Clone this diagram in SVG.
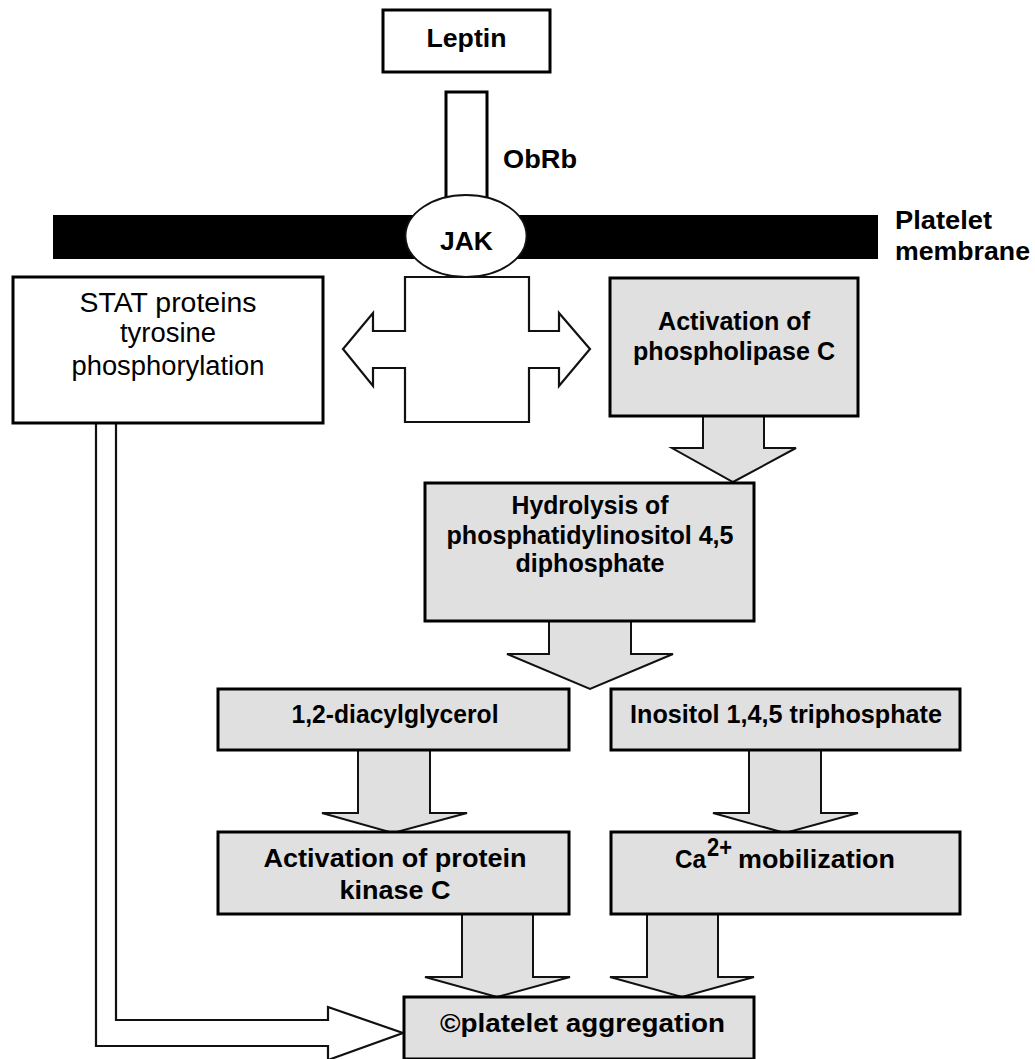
<svg xmlns="http://www.w3.org/2000/svg" width="1035" height="1059" viewBox="0 0 1035 1059">
<style>
.box{fill:#ffffff;stroke:#000;stroke-width:3}
.gbox{fill:#e0e0e0;stroke:#000;stroke-width:3}
.garrow{fill:#e0e0e0;stroke:#111;stroke-width:2;stroke-linejoin:miter}
.warrow{fill:#ffffff;stroke:#111;stroke-width:2.2;stroke-linejoin:miter}
text{font-family:"Liberation Sans",Arial,sans-serif;fill:#000}
.b{font-weight:bold;font-size:26px}
.r{font-weight:normal;font-size:27px}
</style>
<rect x="0" y="0" width="1035" height="1059" fill="#ffffff"/>

<g id="membrane">
<rect x="53" y="215" width="825" height="44" fill="#000"/>
<text class="b" x="895" y="229" textLength="97" lengthAdjust="spacingAndGlyphs">Platelet</text>
<text class="b" x="895" y="260" textLength="135" lengthAdjust="spacingAndGlyphs">membrane</text>
</g>

<g id="connectors">
<!-- ObRb receptor stalk -->
<rect x="446" y="92" width="41" height="120" class="box" stroke-width="2.5"/>
<!-- double arrow from JAK -->
<path class="warrow" d="M405,277 H529 V331 H559 V313 L590,349 L559,386 V368 H529 V422 H405 V368 H373 V386 L343,349 L373,313 V331 H405 Z"/>
<!-- PLC -> hydrolysis -->
<path class="garrow" d="M703,415 V448 H672 L733,482 L796,448 H764 V415 Z"/>
<!-- hydrolysis -> DAG / IP3 -->
<path class="garrow" d="M549,620 V654 H507 L590,689 L673,654 H631 V620 Z"/>
<!-- DAG -> PKC -->
<path class="garrow" d="M358,749 V813 H322 L393,833 L467,813 H430 V749 Z"/>
<!-- IP3 -> Ca -->
<path class="garrow" d="M749,749 V813 H713 L785,833 L858,813 H821 V749 Z"/>
<!-- PKC -> aggregation -->
<path class="garrow" d="M462,913 V977 H425 L497,997 L570,977 H533 V913 Z"/>
<!-- Ca -> aggregation -->
<path class="garrow" d="M647,913 V977 H610 L682,997 L754,977 H718 V913 Z"/>
<!-- STAT -> aggregation hollow arrow -->
<path class="warrow" d="M116,423 V1020 H328 V1007 L403,1033 L328,1060 V1046 H96 V423"/>
</g>

<g id="leptin">
<rect x="383" y="10" width="167" height="62" class="box" stroke-width="2.5"/>
<text class="b" x="466.5" y="47" text-anchor="middle" font-size="27" textLength="80" lengthAdjust="spacingAndGlyphs">Leptin</text>
</g>

<g id="obrb">
<text class="b" x="503" y="168" textLength="74" lengthAdjust="spacingAndGlyphs">ObRb</text>
</g>

<g id="jak">
<ellipse cx="466" cy="236" rx="60.5" ry="41" fill="#fff" stroke="#111" stroke-width="1.8"/>
<text class="b" x="466.5" y="250" text-anchor="middle" textLength="53" lengthAdjust="spacingAndGlyphs">JAK</text>
</g>

<g id="stat">
<rect x="13" y="277" width="310" height="146" class="box"/>
<text class="r" x="168" y="312" text-anchor="middle" textLength="177" lengthAdjust="spacingAndGlyphs">STAT proteins</text>
<text class="r" x="168" y="342" text-anchor="middle" textLength="96" lengthAdjust="spacingAndGlyphs">tyrosine</text>
<text class="r" x="168" y="375" text-anchor="middle" textLength="193" lengthAdjust="spacingAndGlyphs">phosphorylation</text>
</g>

<g id="plc">
<rect x="610" y="278" width="248" height="138" class="gbox"/>
<text class="b" x="734" y="330" text-anchor="middle" textLength="152" lengthAdjust="spacingAndGlyphs">Activation of</text>
<text class="b" x="734" y="360" text-anchor="middle" textLength="202" lengthAdjust="spacingAndGlyphs">phospholipase C</text>
</g>

<g id="hydrolysis">
<rect x="425" y="483" width="329" height="138" class="gbox"/>
<text class="b" x="590" y="514" text-anchor="middle" textLength="157" lengthAdjust="spacingAndGlyphs">Hydrolysis of</text>
<text class="b" x="590" y="544" text-anchor="middle" textLength="287" lengthAdjust="spacingAndGlyphs">phosphatidylinositol 4,5</text>
<text class="b" x="590" y="572" text-anchor="middle" textLength="149" lengthAdjust="spacingAndGlyphs">diphosphate</text>
</g>

<g id="dag">
<rect x="218" y="689" width="351" height="61" class="gbox"/>
<text class="b" x="395" y="723" text-anchor="middle" font-size="24" textLength="207" lengthAdjust="spacingAndGlyphs">1,2-diacylglycerol</text>
</g>

<g id="ip3">
<rect x="611" y="689" width="349" height="61" class="gbox"/>
<text class="b" x="786" y="723" text-anchor="middle" font-size="24" textLength="312" lengthAdjust="spacingAndGlyphs">Inositol 1,4,5 triphosphate</text>
</g>

<g id="pkc">
<rect x="218" y="832" width="351" height="82" class="gbox"/>
<text class="b" x="395" y="867" text-anchor="middle" textLength="263" lengthAdjust="spacingAndGlyphs">Activation of protein</text>
<text class="b" x="395" y="899" text-anchor="middle" textLength="111" lengthAdjust="spacingAndGlyphs">kinase C</text>
</g>

<g id="calcium">
<rect x="611" y="832" width="349" height="82" class="gbox"/>
<text class="b" x="675" y="868" textLength="31" lengthAdjust="spacingAndGlyphs">Ca</text>
<text class="b" x="707" y="856" font-size="15" textLength="25" lengthAdjust="spacingAndGlyphs">2+</text>
<text class="b" x="738" y="868" textLength="157" lengthAdjust="spacingAndGlyphs">mobilization</text>
</g>

<g id="aggregation">
<rect x="404" y="997" width="350" height="62" class="gbox"/>
<text class="b" x="440" y="1032" textLength="285" lengthAdjust="spacingAndGlyphs">©platelet aggregation</text>
</g>
</svg>
